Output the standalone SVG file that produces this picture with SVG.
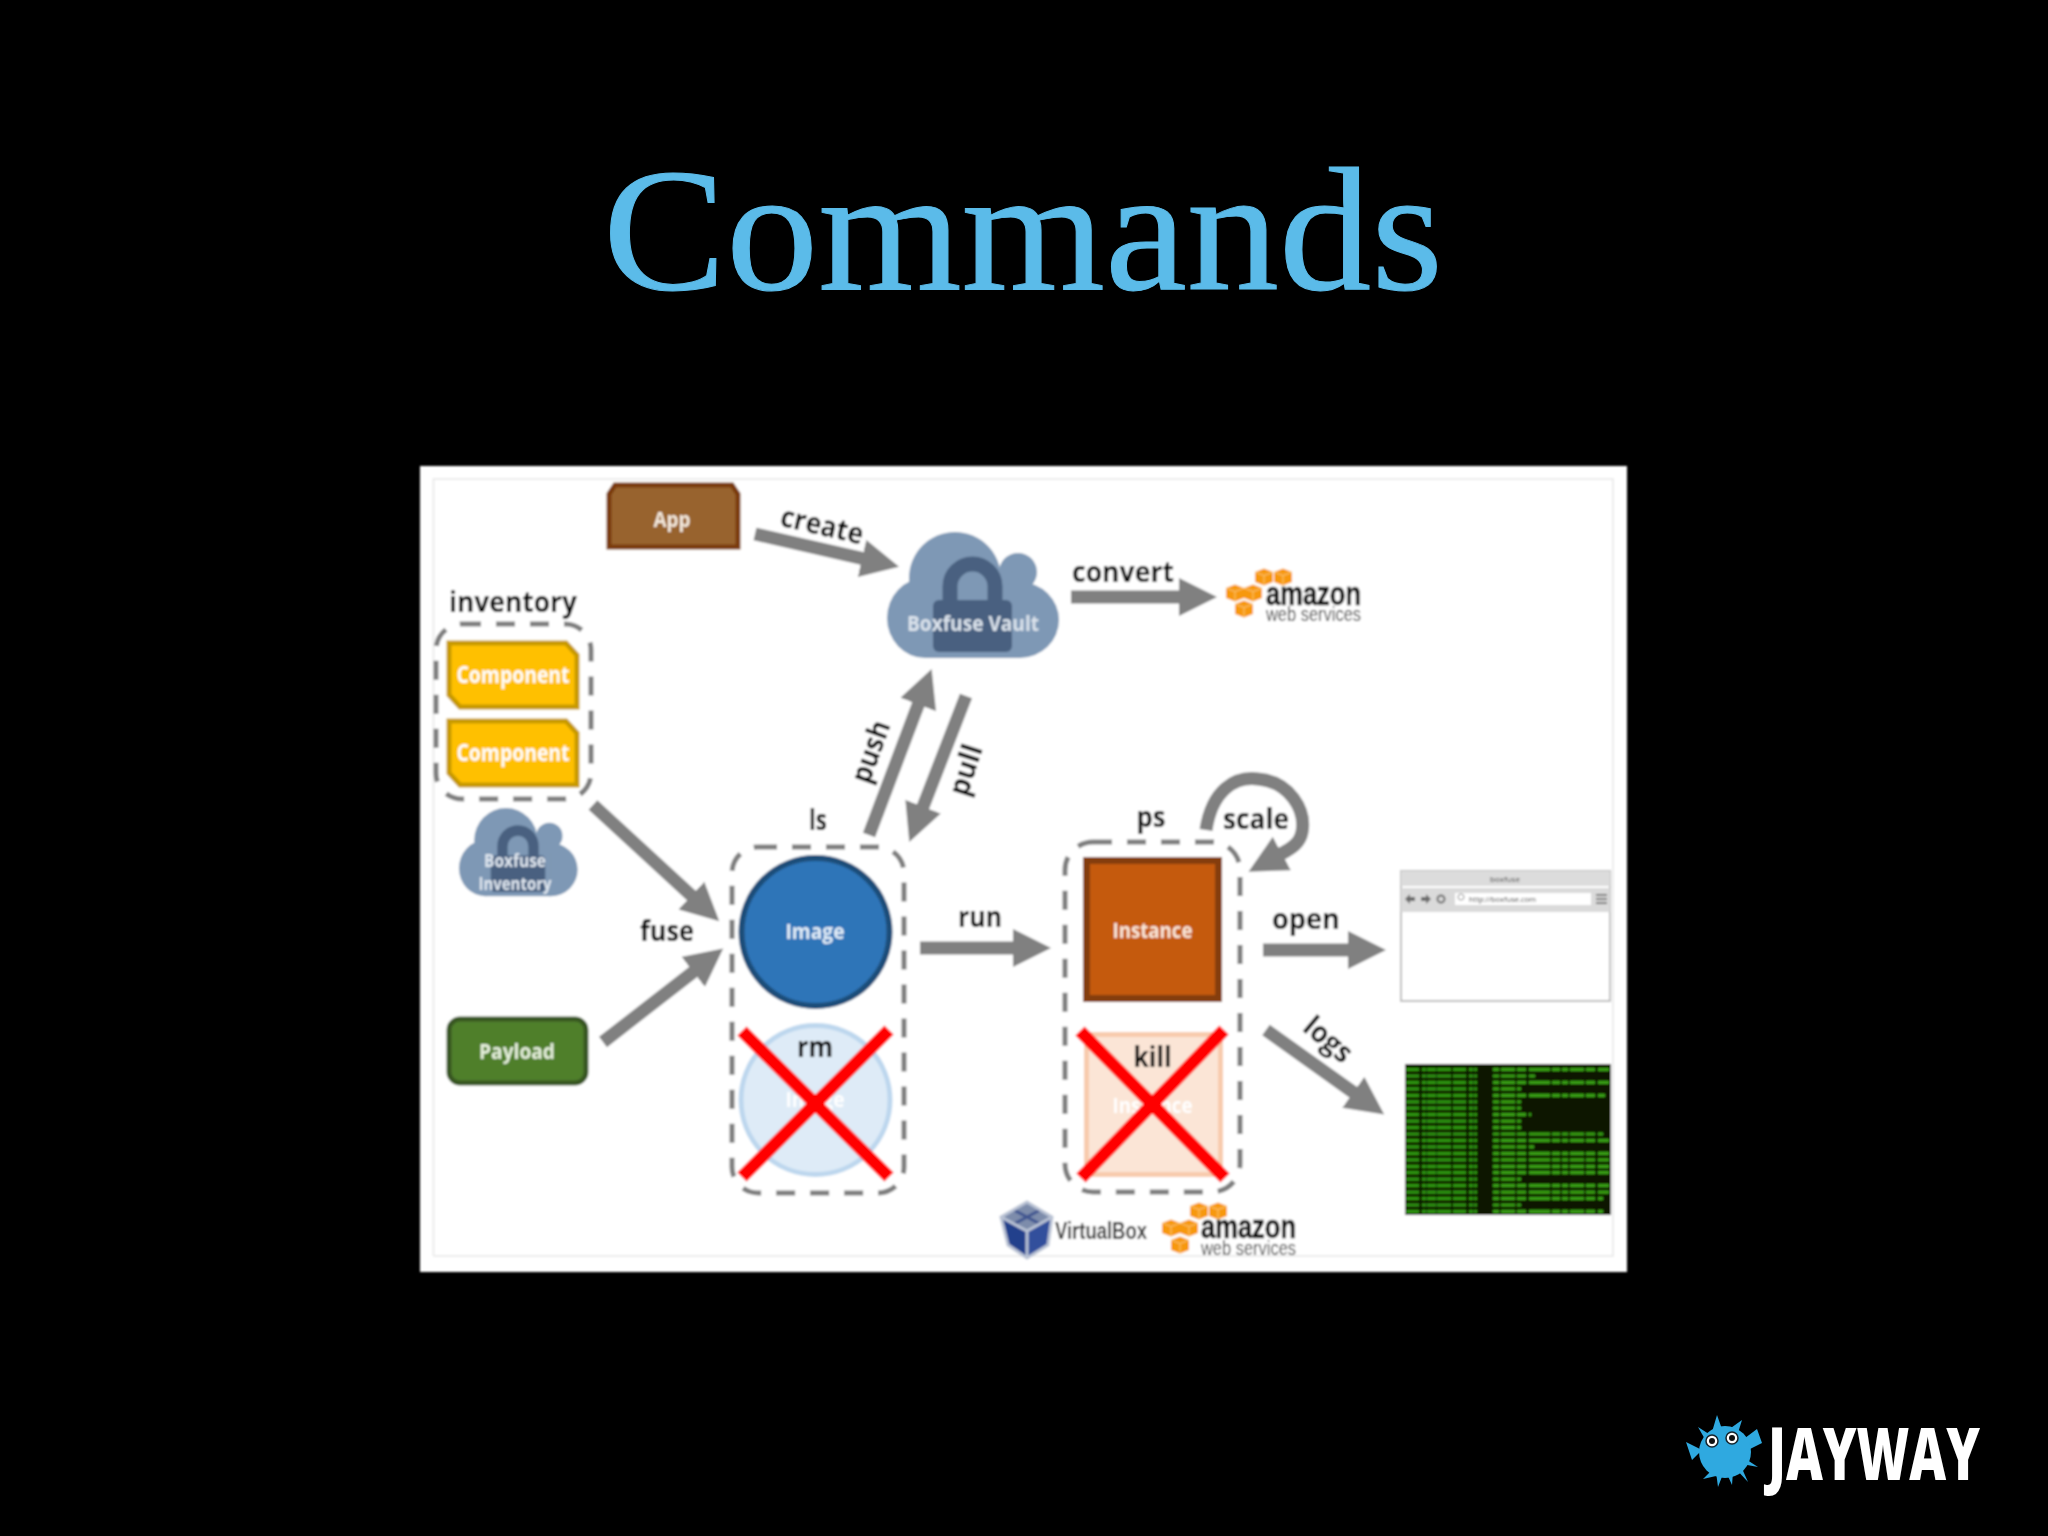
<svg xmlns="http://www.w3.org/2000/svg" xmlns:xlink="http://www.w3.org/1999/xlink" width="2048" height="1536" viewBox="0 0 2048 1536">
<style>
text{font-family:"Open Sans","Noto Sans","Liberation Sans",sans-serif}
.lbl{font-size:29px;font-weight:700;fill:#000;text-anchor:middle}
.nt{font-weight:700;text-anchor:middle;fill:#fff}
.dash{fill:none;stroke:#7f7f7f;stroke-width:5;stroke-dasharray:19 15}
.arr{fill:none;stroke:#808080;stroke-width:13;marker-end:url(#head)}
.x{stroke:#ff0000;stroke-width:13;fill:none}
.amz{font-family:"Liberation Sans",Arial,sans-serif;font-weight:700;font-size:33px;fill:#111;stroke:#111;stroke-width:.6}
.ws{font-family:"Liberation Sans",Arial,sans-serif;font-size:20px;fill:#444}
</style>
<defs>
<filter id="soft" x="-2%" y="-2%" width="104%" height="104%"><feGaussianBlur stdDeviation="0.8"/></filter>
<marker id="head" markerUnits="userSpaceOnUse" markerWidth="40" markerHeight="40" refX="1" refY="19" orient="auto"><path d="M0,0L38,19L0,38Z" fill="#808080"/></marker>
<g id="cloud">
<g fill="#7e98b5"><circle cx="955" cy="578" r="46"/><circle cx="1018" cy="572" r="19"/><ellipse cx="1000" cy="592" rx="22" ry="24"/><ellipse cx="925" cy="618" rx="38" ry="40"/><ellipse cx="1020" cy="620" rx="39" ry="38"/><rect x="925" y="595" width="95" height="63"/></g>
<path d="M950,604V586.500A22.500,22.500 0 0 1 995,586.500V604" fill="none" stroke="#4a6180" stroke-width="15"/>
<rect x="933" y="600" width="79" height="52" rx="6" fill="#4a6180"/>
</g>
<g id="cube"><path d="M-9,-5L0,-8.500L9,-5V5L0,8.500L-9,5Z" fill="#f7980f"/><path d="M-9,-5L0,-1.500L9,-5M0,-1.500V8.500" fill="none" stroke="#fcc873" stroke-width="1"/></g>
</defs>
<rect width="2048" height="1536" fill="#000"/>
<text id="title" x="603" y="289" font-size="176" textLength="840" lengthAdjust="spacingAndGlyphs" style="font-family:'Liberation Serif','Times New Roman',serif" fill="#5bbbe9" stroke="#5bbbe9" stroke-width="1">Commands</text>

<g id="diagram" filter="url(#soft)">
<g id="panel"><rect x="420" y="466" width="1207" height="806" fill="#fff"/><path d="M433.500,1256V479H1613V1256H433.500" fill="none" stroke="#e6e6e6" stroke-width="1.500"/></g>

<g id="node-app"><path d="M615,485H732L738,494V547H609V494Z" fill="#98642f" stroke="#7a3b08" stroke-width="5"/><text class="nt" x="672" y="527" font-size="21" textLength="37" lengthAdjust="spacingAndGlyphs" style="fill:#f4e9dd">App</text></g>

<g id="node-inventory">
<rect class="dash" x="436" y="624" width="155" height="175" rx="26"/>
<text class="lbl" x="513" y="612" textLength="128" lengthAdjust="spacingAndGlyphs">inventory</text>
<path d="M449,643H566L577,655V707H460L449,695Z" fill="#ffc000" stroke="#c79a06" stroke-width="5"/>
<text class="nt" x="513" y="683" font-size="23" textLength="113" lengthAdjust="spacingAndGlyphs">Component</text>
<path d="M449,721H566L577,733V785H460L449,773Z" fill="#ffc000" stroke="#c79a06" stroke-width="5"/>
<text class="nt" x="513" y="761" font-size="23" textLength="113" lengthAdjust="spacingAndGlyphs">Component</text>
</g>

<g id="node-boxfuse-inventory"><use href="#cloud" transform="translate(459,808) scale(0.69,0.7) translate(-887,-532)"/>
<text class="nt" x="515" y="867" font-size="17" textLength="62" lengthAdjust="spacingAndGlyphs" style="fill:#dfe6ef">Boxfuse</text>
<text class="nt" x="515" y="890" font-size="17" textLength="73" lengthAdjust="spacingAndGlyphs" style="fill:#dfe6ef">Inventory</text></g>

<g id="node-vault"><use href="#cloud"/><text class="nt" x="973" y="631" font-size="22" textLength="132" lengthAdjust="spacingAndGlyphs" style="fill:#dbe3ec">Boxfuse Vault</text></g>

<g id="node-payload"><rect x="449" y="1019" width="137" height="64" rx="11" fill="#4f7f2c" stroke="#385723" stroke-width="5"/><text class="nt" x="517" y="1059" font-size="21" textLength="76" lengthAdjust="spacingAndGlyphs" style="fill:#e6f0dd">Payload</text></g>

<g id="node-images">
<rect class="dash" x="732" y="847" width="172" height="346" rx="26"/>
<text class="lbl" x="818" y="830" textLength="18" lengthAdjust="spacingAndGlyphs">ls</text>
<circle cx="815.500" cy="932" r="74" fill="#2d74b8" stroke="#1f4e79" stroke-width="6"/>
<text class="nt" x="815" y="939" font-size="21" textLength="59" lengthAdjust="spacingAndGlyphs" style="fill:#e4eff9">Image</text>
<circle cx="815.500" cy="1100" r="74.500" fill="#deebf7" stroke="#bdd7ee" stroke-width="5"/>
<text class="nt" x="815" y="1107" font-size="21" textLength="59" lengthAdjust="spacingAndGlyphs">Image</text>
<path class="x" d="M742,1031L889,1177M889,1030L742,1177"/>
<text class="lbl" x="815" y="1057" textLength="36" lengthAdjust="spacingAndGlyphs">rm</text>
</g>

<g id="node-instances">
<rect class="dash" x="1065" y="842" width="175" height="350" rx="28"/>
<text class="lbl" x="1151" y="827" textLength="29" lengthAdjust="spacingAndGlyphs">ps</text>
<rect x="1086.500" y="860.500" width="132" height="138" fill="#c55a11" stroke="#843c0c" stroke-width="7"/>
<text class="nt" x="1152.500" y="938" font-size="21" textLength="80" lengthAdjust="spacingAndGlyphs" style="fill:#fbe8da">Instance</text>
<rect x="1086.500" y="1034.500" width="134" height="140" fill="#fbe5d6" stroke="#f8cbad" stroke-width="5"/>
<text class="nt" x="1152.500" y="1113" font-size="21" textLength="80" lengthAdjust="spacingAndGlyphs">Instance</text>
<path class="x" d="M1080,1031L1225,1178M1224,1030L1081,1178"/>
<text class="lbl" x="1152.500" y="1067" textLength="38" lengthAdjust="spacingAndGlyphs">kill</text>
</g>

<g id="node-aws-top">
<use href="#cube" x="1264" y="577"/><use href="#cube" x="1283" y="577"/><use href="#cube" x="1235" y="593"/><use href="#cube" x="1253" y="593"/><use href="#cube" x="1244" y="609"/>
<text class="amz" x="1266" y="605" textLength="95" lengthAdjust="spacingAndGlyphs">amazon</text>
<text class="ws" x="1266" y="621" textLength="95" lengthAdjust="spacingAndGlyphs">web services</text>
</g>

<g id="node-browser">
<rect x="1401" y="871" width="209" height="130" fill="#fff" stroke="#bdbdbd" stroke-width="2"/>
<rect x="1401" y="871" width="209" height="15" fill="#dcdcdc"/><rect x="1401" y="888" width="209" height="24" fill="#dadada"/>
<text x="1505" y="882" font-size="8" text-anchor="middle" fill="#444">boxfuse</text>
<path d="M1405,899l5,-5v3h5v4h-5v3ZM1431,899l-5,-5v3h-5v4h5v3Z" fill="#6b6b6b"/>
<circle cx="1441" cy="899" r="3.500" fill="none" stroke="#6b6b6b" stroke-width="2"/>
<rect x="1455" y="893" width="136" height="12" fill="#fff"/>
<circle cx="1461" cy="897" r="3" fill="none" stroke="#888" stroke-width="1"/>
<text x="1469" y="902" font-size="7.500" fill="#444">http://boxfuse.com</text>
<path d="M1596,895h11M1596,899h11M1596,903h11" stroke="#777" stroke-width="2"/>
</g>

<g id="node-terminal">
<rect x="1405" y="1064" width="206" height="151" fill="#071300"/>
<path fill="none" stroke="#2f960e" stroke-width="3.200" stroke-dasharray="13 3 4 1 9 1 14 2" d="M1406,1069.500H1477M1406,1076H1477M1406,1082.400H1477M1406,1088.900H1477M1406,1095.300H1477M1406,1101.800H1477M1406,1108.200H1477M1406,1114.700H1477M1406,1121.100H1477M1406,1127.600H1477M1406,1134H1477M1406,1140.500H1477M1406,1146.900H1477M1406,1153.400H1477M1406,1159.800H1477M1406,1166.300H1477M1406,1172.700H1477M1406,1179.200H1477M1406,1185.600H1477M1406,1192.100H1477M1406,1198.500H1477M1406,1205H1477M1406,1211.400H1477"/>
<path fill="none" stroke="#38a012" stroke-width="3.200" stroke-dasharray="6 2 14 2 9 3 21 2 8 2" d="M1493,1069.500H1609M1493,1076H1535M1493,1082.400H1609M1493,1088.900H1521M1493,1095.300H1605M1493,1101.800H1521M1493,1108.200H1521M1493,1114.700H1531M1493,1121.100H1521M1493,1127.600H1521M1493,1134H1603M1493,1140.500H1609M1493,1146.900H1534M1493,1153.400H1609M1493,1159.800H1609M1493,1166.300H1609M1493,1172.700H1609M1493,1179.200H1521M1493,1185.600H1609M1493,1192.100H1609M1493,1198.500H1603M1493,1205H1521M1493,1211.400H1603"/>
</g>

<g id="node-virtualbox">
<path d="M1027,1202L1052,1217L1027,1231L1001,1217Z" fill="#7d8cab"/>
<path d="M1001,1217L1027,1231V1258L1008,1245Z" fill="#213f8c"/>
<path d="M1052,1217L1027,1231V1258L1048,1245Z" fill="#33509c"/>
<path d="M1014,1210L1040,1224M1040,1210L1014,1224" stroke="#3f5590" stroke-width="3"/>
<path d="M1027,1202L1052,1217L1048,1245L1027,1258L1008,1245L1001,1217ZM1001,1217L1027,1231L1052,1217M1027,1231V1258" fill="none" stroke="#b9c2d4" stroke-width="3"/>
<text x="1055" y="1239" font-size="24" font-weight="700" fill="#333" textLength="92" lengthAdjust="spacingAndGlyphs" style="font-family:'Liberation Sans',sans-serif">VirtualBox</text>
</g>

<g id="node-aws-bottom">
<use href="#cube" x="1199" y="1211"/><use href="#cube" x="1218" y="1211"/><use href="#cube" x="1171" y="1228"/><use href="#cube" x="1189" y="1228"/><use href="#cube" x="1180" y="1245"/>
<text class="amz" x="1201" y="1238" textLength="95" lengthAdjust="spacingAndGlyphs">amazon</text>
<text class="ws" x="1201" y="1255" textLength="95" lengthAdjust="spacingAndGlyphs">web services</text>
</g>

<g id="connectors">
<line class="arr" x1="755" y1="534" x2="863" y2="558.600"/>
<line class="arr" x1="1071" y1="597" x2="1180" y2="597"/>
<line class="arr" x1="869" y1="835" x2="918.600" y2="703.600"/>
<line class="arr" x1="966" y1="696" x2="922.700" y2="807.600"/>
<line class="arr" x1="593" y1="805" x2="692.100" y2="896.300"/>
<line class="arr" x1="603" y1="1042" x2="694" y2="971.300"/>
<line class="arr" x1="920" y1="948" x2="1014" y2="948"/>
<line class="arr" x1="1263" y1="950" x2="1349" y2="950"/>
<line class="arr" x1="1266" y1="1030" x2="1354.100" y2="1092.900"/>
<path class="arr" d="M1206,830C1212,790 1235,776 1258,779C1290,782 1306,810 1302,832C1300,843 1292,848 1281,854"/>
<text class="lbl" transform="translate(820,535) rotate(13)" textLength="84" lengthAdjust="spacingAndGlyphs">create</text>
<text class="lbl" x="1123" y="582" textLength="102" lengthAdjust="spacingAndGlyphs">convert</text>
<text class="lbl" transform="translate(880,755) rotate(-70)" textLength="64" lengthAdjust="spacingAndGlyphs">push</text>
<text class="lbl" transform="translate(975,773) rotate(-72)" textLength="52" lengthAdjust="spacingAndGlyphs">pull</text>
<text class="lbl" x="667" y="941" textLength="54" lengthAdjust="spacingAndGlyphs">fuse</text>
<text class="lbl" x="980" y="927" textLength="44" lengthAdjust="spacingAndGlyphs">run</text>
<text class="lbl" x="1306" y="929" textLength="68" lengthAdjust="spacingAndGlyphs">open</text>
<text class="lbl" transform="translate(1322,1047) rotate(40)" textLength="54" lengthAdjust="spacingAndGlyphs">logs</text>
<text class="lbl" x="1256" y="829" textLength="66" lengthAdjust="spacingAndGlyphs">scale</text>
</g>
</g>

<g id="logo">
<path d="M1717,1415L1723,1432L1712,1432ZM1742,1420L1737,1436L1728,1430ZM1698,1427L1712,1436L1706,1441ZM1703,1479L1712,1470L1716,1476ZM1718,1487L1716,1472L1723,1474ZM1732,1485L1727,1474L1733,1472ZM1748,1482L1735,1468L1740,1464ZM1758,1467L1744,1458L1742,1464ZM1686,1442L1702,1450L1692,1460ZM1757,1429L1762,1443L1744,1452L1745,1438Z" fill="#2fa9e0"/>
<circle cx="1725" cy="1452" r="26" fill="#2fa9e0"/>
<circle cx="1712" cy="1441" r="6" fill="#fff" stroke="#16242c" stroke-width="1.500"/><circle cx="1712" cy="1441" r="3" fill="#111"/>
<circle cx="1732" cy="1438" r="6" fill="#fff" stroke="#16242c" stroke-width="1.500"/><circle cx="1732" cy="1438" r="3" fill="#111"/>
<text x="1768" y="1480" font-size="73" font-weight="800" fill="#fff" textLength="212" lengthAdjust="spacingAndGlyphs">JAYWAY</text>
</g>
</svg>
